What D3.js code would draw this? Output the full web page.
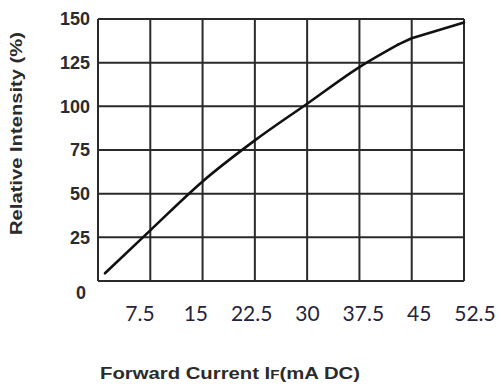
<!DOCTYPE html>
<html>
<head>
<meta charset="utf-8">
<script src="https://cdn.jsdelivr.net/npm/d3@7"></script>
<style>
  html, body { margin: 0; padding: 0; background: #fff; }
  svg { display: block; }
</style>
</head>
<body>
<svg id="chart" width="501" height="387"></svg>
<script>
// ---- data ----
// smooth rising part of the curve
const currentX = [1.0, 7.5, 15, 22.5, 30, 37.5, 43.1];
const intensityY = [4.4, 29, 57, 80.5, 101.5, 122.5, 135.5];
// straight tail after the bend
const tailX = [43.1, 45, 52.5];
const tailY = [135.5, 139, 148];
const xTickValues = [7.5, 15, 22.5, 30, 37.5, 45, 52.5];
const xTickLabels = ["7.5", "15", "22.5", "30", "37.5", "45", "52.5"];
const yTickValues = [0, 25, 50, 75, 100, 125, 150];
const yTickLabels = ["0", "25", "50", "75", "100", "125", "150"];
const xTitle = ["Forward Current I", "F", "(mA DC)"];
const yTitle = "Relative Intensity (%)";

// ---- layout ----
const svg = d3.select("#chart");
const plot = { left: 98, right: 464, top: 19, bottom: 281 };
const x = d3.scaleLinear().domain([0, 52.5]).range([plot.left, plot.right]);
const y = d3.scaleLinear().domain([0, 150]).range([plot.bottom, plot.top]);
// tick labels in the reference sit on a slightly wider spacing than the grid
const xLabel = d3.scaleLinear().domain([7.5, 52.5]).range([140, 475]);

const gridColor = "#2a2a2a";

// grid lines
svg.append("g").selectAll("line.v")
  .data([0].concat(xTickValues))
  .join("line")
  .attr("x1", d => x(d)).attr("x2", d => x(d))
  .attr("y1", y(0)).attr("y2", y(150))
  .attr("stroke", gridColor).attr("stroke-width", 2);

svg.append("g").selectAll("line.h")
  .data(yTickValues)
  .join("line")
  .attr("x1", x(0)).attr("x2", x(52.5))
  .attr("y1", d => y(d)).attr("y2", d => y(d))
  .attr("stroke", gridColor).attr("stroke-width", 2);

// curve
const line = d3.line().x(d => x(d[0])).y(d => y(d[1]));
const pts = currentX.map((v, i) => [v, intensityY[i]]);
const tail = tailX.map((v, i) => [v, tailY[i]]);
svg.append("path")
  .datum(pts)
  .attr("fill", "none")
  .attr("stroke", "#111")
  .attr("stroke-width", 2.6)
  .attr("stroke-linecap", "round")
  .attr("d", line.curve(d3.curveMonotoneX));
svg.append("path")
  .datum(tail)
  .attr("fill", "none")
  .attr("stroke", "#111")
  .attr("stroke-width", 2.6)
  .attr("stroke-linecap", "round")
  .attr("stroke-linejoin", "round")
  .attr("d", line.curve(d3.curveLinear));

// y tick labels
svg.append("g").selectAll("text")
  .data(yTickValues)
  .join("text")
  .attr("x", d => d === 0 ? 86 : 90)
  .attr("y", d => y(d) + (d === 0 ? 12 : 0))
  .attr("dy", "0.36em")
  .attr("text-anchor", "end")
  .attr("font-family", "Liberation Sans, Arial, sans-serif")
  .attr("font-weight", "bold")
  .attr("font-size", 18)
  .attr("fill", "#2b2b2b")
  .text((d, i) => yTickLabels[i]);

// x tick labels
svg.append("g").selectAll("text")
  .data(xTickValues)
  .join("text")
  .attr("x", d => xLabel(d))
  .attr("y", 321)
  .attr("text-anchor", "middle")
  .attr("font-family", "Lato, 'Open Sans', sans-serif")
  .attr("font-size", 21)
  .attr("fill", "#26233a")
  .text((d, i) => xTickLabels[i]);

// x title
const xt = svg.append("text")
  .attr("x", 100).attr("y", 379)
  .attr("font-family", "Liberation Sans, Arial, sans-serif")
  .attr("font-weight", "bold")
  .attr("font-size", 16)
  .attr("fill", "#2b2b2b")
  .attr("textLength", 260)
  .attr("lengthAdjust", "spacingAndGlyphs");
xt.append("tspan").text(xTitle[0]);
xt.append("tspan").attr("font-size", 12).text(xTitle[1]);
xt.append("tspan").text(xTitle[2]);

// y title
svg.append("text")
  .attr("transform", "translate(22,133.5) rotate(-90)")
  .attr("text-anchor", "middle")
  .attr("font-family", "Liberation Sans, Arial, sans-serif")
  .attr("font-weight", "bold")
  .attr("font-size", 16)
  .attr("fill", "#2b2b2b")
  .attr("textLength", 203)
  .attr("lengthAdjust", "spacingAndGlyphs")
  .text(yTitle);
</script>
</body>
</html>
